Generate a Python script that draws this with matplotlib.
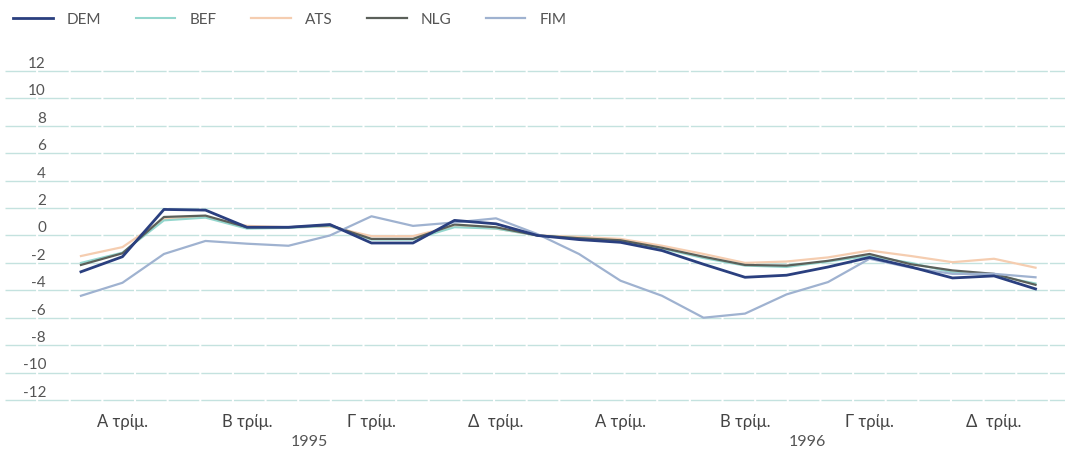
import matplotlib.pyplot as plt
import matplotlib.transforms as mtransforms
import numpy as np

plt.rcParams["font.family"] = ["Lato", "DejaVu Sans"]

# monthly percentage changes, Jan 1995 - Dec 1996
dem = [-2.65, -1.55, 1.9, 1.85, 0.6, 0.6, 0.8, -0.55, -0.55, 1.1, 0.85, 0.0,
       -0.3, -0.5, -1.1, -2.1, -3.05, -2.9, -2.3, -1.6, -2.3, -3.1, -2.95, -3.9]
bef = [-2.0, -1.25, 1.1, 1.3, 0.5, 0.55, 0.7, -0.3, -0.3, 0.6, 0.5, 0.0,
       -0.2, -0.4, -0.95, -1.65, -2.2, -2.3, -1.9, -1.5, -2.0, -2.7, -2.9, -3.5]
ats = [-1.5, -0.85, 1.2, 1.35, 0.7, 0.6, 0.65, -0.05, -0.05, 0.7, 0.5, 0.0,
       -0.1, -0.25, -0.75, -1.35, -2.0, -1.9, -1.6, -1.1, -1.5, -1.95, -1.7, -2.35]
nlg = [-2.15, -1.3, 1.35, 1.45, 0.6, 0.6, 0.75, -0.25, -0.25, 0.8, 0.6, 0.0,
       -0.2, -0.35, -0.9, -1.55, -2.15, -2.2, -1.85, -1.35, -2.1, -2.55, -2.8, -3.6]
fim = [-4.4, -3.45, -1.35, -0.4, -0.6, -0.75, 0.0, 1.4, 0.7, 0.95, 1.25, 0.1,
       -1.35, -3.3, -4.4, -6.0, -5.7, -4.3, -3.4, -1.7, -2.35, -2.8, -2.8, -3.05]

quarters = ["Α τρίμ.", "Β τρίμ.", "Γ τρίμ.", "Δ  τρίμ."]
years = ["1995", "1996"]
yticks = list(range(12, -13, -2))

series = [
    ("DEM", dem, "#2a3f7f", 2.0),
    ("BEF", bef, "#93d6cd", 1.5),
    ("ATS", ats, "#f5cdb0", 1.6),
    ("NLG", nlg, "#5b605a", 1.6),
    ("FIM", fim, "#9fb2d0", 1.6),
]
zorders = {"DEM": 7, "BEF": 4, "ATS": 3, "NLG": 5, "FIM": 6}

fig = plt.figure(figsize=(10.65, 4.52), dpi=100)
ax = fig.add_axes([5 / 1065, 42 / 452, 1060 / 1065, 350 / 452])

x = np.arange(len(dem))
handles = []
for name, vals, color, lw in series:
    (h,) = ax.plot(x, vals, color=color, lw=lw, label=name,
                   zorder=zorders[name], solid_joinstyle="round")
    handles.append(h)

for v in yticks:
    ax.axhline(v, color="#c4e2df", lw=1.0, dashes=(22, 1.5), zorder=1)

ax.set_xlim(-1.83, 23.71)
ax.set_ylim(-12.66, 12.875)
ax.axis("off")

# y labels sit just above their gridlines, right-aligned near the left edge
trans = mtransforms.blended_transform_factory(fig.transFigure, ax.transData)
offset = mtransforms.ScaledTranslation(0, 0.8 / 72, fig.dpi_scale_trans)
for v in yticks:
    ax.text(46 / 1065, v, str(v), transform=trans + offset,
            ha="right", va="bottom", fontsize=11, color="#555555")

# quarter and year labels under the plot
xtrans = mtransforms.blended_transform_factory(ax.transData, fig.transFigure)
for yi, year in enumerate(years):
    for qi, q in enumerate(quarters):
        ax.text(yi * 12 + qi * 3 + 1, 1 - 422 / 452, q, transform=xtrans,
                ha="center", va="center", fontsize=12, color="#444444")
    ax.text(yi * 12 + 5.5, 1 - 442 / 452, year, transform=xtrans,
            ha="center", va="center", fontsize=11.5, color="#555555")

fig.legend(handles=handles, loc="upper left", bbox_to_anchor=(0.0, 1.0),
           ncol=5, frameon=False, fontsize=11, handlelength=2.6,
           handletextpad=0.92, columnspacing=2.25, labelcolor="#555555",
           borderaxespad=0.45)

fig.savefig("out.png", dpi=100, facecolor="white")
